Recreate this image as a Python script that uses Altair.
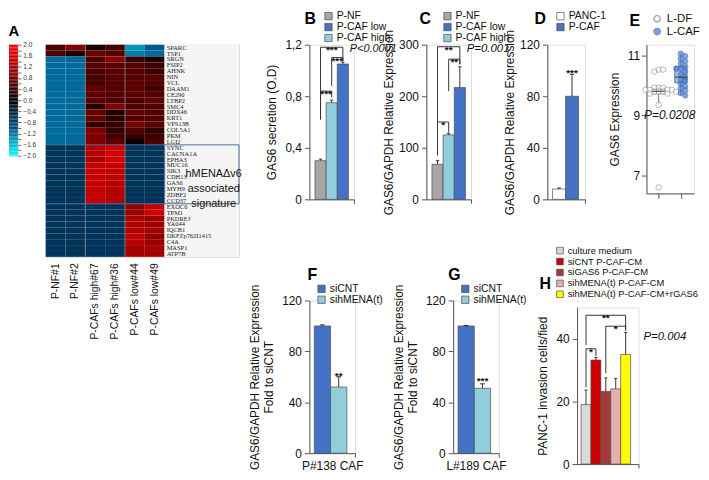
import altair as alt
import pandas as pd
import numpy as np

FONT = "Liberation Sans"
SERIF = "Liberation Serif"

# ---------------- Panel A data ----------------
genes = ["SPARC", "TSP1", "SRGN", "FSIP2", "AHNK", "NIN", "VCL", "DAAM1", "CE290",
         "LTBP2", "SMC4", "DDX46", "KRT1", "VPS13B", "COL5A1", "PKM", "LGI2",
         "SYNC", "CACNA1A", "EPHA3", "MUC16", "SIK3", "CDH13", "GAS6", "MYH9",
         "ZDBF2", "CCD37", "EXOC6", "TPM1", "PKDREJ", "YA044", "IQCB1",
         "DKFZp762I1415", "C4A", "MASP1", "ATP7B"]
samples = ["P-NF#1", "P-NF#2", "P-CAFs high#67", "P-CAFs high#36", "P-CAFs low#44", "P-CAFs low#49"]

nf1 = [0.55, 0.55, -1.15, -1.15, -1.15, -1.15, -1.15, -1.15, -1.15, -1.15, -1.15, -1.15, -1.15, -1.15, -1.15, -1.15, -1.15,
       -0.65, -0.65, -0.65, -0.65, -0.65, -0.65, -0.65, -0.65, -0.65, -0.65,
       -0.65, -0.65, -0.65, -0.65, -0.65, -0.65, -0.65, -0.65, -0.65]
nf2 = [0.95, 0.2, -1.15, -1.15, -1.15, -1.15, -1.15, -1.15, -1.15, -1.15, -1.15, -1.15, -1.15, -1.15, -1.15, -1.15, -1.15,
       -0.65, -0.65, -0.65, -0.65, -0.65, -0.65, -0.65, -0.65, -0.65, -0.65,
       -0.65, -0.65, -0.65, -0.65, -0.65, -0.65, -0.65, -0.65, -0.65]
hi67 = [0.2, 0.8, 0.55, 0.6, 0.55, 0.5, 0.5, 0.7, 0.65, 0.65, 0.3, 0.75, 0.75, 0.35, 0.9, 0.9, 0.9,
        1.35, 1.35, 1.25, 1.5, 1.5, 1.5, 1.5, 1.45, 1.5, 1.5,
        -0.65, -0.65, -0.65, -0.65, -0.65, -0.65, -0.65, -0.65, -0.65]
hi36 = [0.5, 0.6, 1.0, 0.65, 0.65, 0.6, 0.6, 0.6, 0.6, 0.55, 0.95, 0.25, 0.3, 0.4, 0.35, 0.45, 0.7,
        1.55, 1.6, 1.6, 1.45, 1.45, 1.45, 1.4, 1.35, 1.3, 1.35,
        -0.65, -0.65, -0.65, -0.65, -0.65, -0.65, -0.65, -0.65, -0.65]
lo44 = [-1.4, -1.25, 0.4, 0.6, 0.6, 0.6, 0.65, 0.65, 0.65, 0.55, 0.55, 0.7, 0.6, 0.85, 0.6, 0.4, 0.05,
        -0.65, -0.65, -0.65, -0.65, -0.65, -0.65, -0.65, -0.65, -0.65, -0.65,
        1.05, 1.05, 1.3, 1.35, 1.3, 1.45, 1.4, 1.2, 1.25]
lo49 = [-1.05, -1.15, 0.2, 0.45, 0.45, 0.6, 0.6, 0.45, 0.6, 0.7, 0.55, 0.6, 0.6, 0.65, 0.3, 0.45, 0.55,
        -0.65, -0.65, -0.65, -0.65, -0.65, -0.65, -0.65, -0.65, -0.65, -0.65,
        1.5, 1.6, 1.15, 1.15, 1.2, 1.0, 1.1, 1.25, 1.2]
heat_cols = [nf1, nf2, hi67, hi36, lo44, lo49]

colorbar_ticks = [2.0, 1.8, 1.6, 1.4, 1.2, 1.0, 0.8, 0.6, 0.4, 0.2, 0.0,
                  -0.2, -0.4, -0.6, -0.8, -1.0, -1.2, -1.4, -1.6, -1.8, -2.0]
block_breaks = [17, 27]
signature_text = "hMENAΔv6\nassociated\nsignature"

# ---------------- Bar panels data ----------------
b_cats = ["P-NF", "P-CAF low", "P-CAF high"]
b_order = ["P-NF", "P-CAF high", "P-CAF low"]
b_vals = [0.30, 0.75, 1.05]
b_errs = [0.012, 0.02, 0.015]

c_vals = [68, 125, 217]
c_errs = [7, 3, 40]

d_cats = ["PANC-1", "P-CAF"]
d_vals = [8, 80]
d_errs = [0.8, 17]

f_cats = ["siCNT", "sihMENA(t)"]
f_vals = [100, 52]
f_errs = [0.8, 8]
g_vals = [100, 51]
g_errs = [0.3, 3.5]

h_cats = ["culture medium", "siCNT P-CAF-CM", "siGAS6 P-CAF-CM",
          "sihMENA(t) P-CAF-CM", "sihMENA(t) P-CAF-CM+rGAS6"]
h_vals = [19, 33.2, 23.2, 24, 35]
h_errs = [4.6, 0.8, 4.3, 3.3, 7]

# Panel E
e_groups = ["L-DF", "L-CAF"]
ldf_vals = [10.52, 10.52, 10.45, 9.92, 9.92, 9.92, 9.85, 9.85, 9.85, 9.85, 9.78, 9.78, 9.78,
            9.78, 9.72, 9.72, 9.35, 6.6]
lcaf_vals = [11.05, 10.97, 10.88, 10.8, 10.72, 10.63, 10.55, 10.55, 10.46, 10.36, 10.27, 10.18,
             10.14, 10.05, 9.97, 9.9, 9.83, 9.74, 9.66]
e_box = {"L-DF": [9.72, 9.8, 9.9, 9.35, 9.92], "L-CAF": [10.08, 10.27, 10.63, 9.66, 11.05]}

GRAY = "#a6a6a6"
BLUE = "#4472c4"
LBLUE = "#92cddc"
AXC = "#555555"


def ind(c):
    return c.resolve_scale(color="independent", fill="independent", stroke="independent").resolve_legend(
        color="independent", fill="independent", stroke="independent")


# NOTE: with bounds="flush", a nested concat counts as size 0, so the spacing that
# follows it is the full offset from its origin.
def hc(*charts, spacing=0, **kw):
    return ind(alt.hconcat(*charts, spacing=spacing, bounds="flush", **kw))


def vc(*charts, spacing=0, **kw):
    return ind(alt.vconcat(*charts, spacing=spacing, bounds="flush", **kw))


# ================= Panel A =================
rows = []
for s, col in zip(samples, heat_cols):
    for i, g in enumerate(genes):
        rows.append(dict(sample=s, gene=g, r0=i, r1=i + 1, value=col[i]))
heat_df = pd.DataFrame(rows)

cscale = alt.Scale(domain=[-2, -1, 0, 1, 2],
                   range=["#00ffff", "#00508a", "#000000", "#8c0000", "#ff0000"], interpolate="rgb")
ys = alt.Scale(domain=[0, len(genes)], reverse=True, nice=False, zero=False)

heat_rect = alt.Chart(heat_df).mark_rect().encode(
    x=alt.X("sample:N", sort=samples, scale=alt.Scale(paddingInner=0, paddingOuter=0),
            axis=alt.Axis(title=None, labelAngle=-90, labelFontSize=10.5, labelFont=FONT,
                          ticks=False, domain=False, labelPadding=6, labelColor="#111")),
    y=alt.Y("r0:Q", scale=ys, axis=None),
    y2="r1:Q",
    color=alt.Color("value:Q", scale=cscale, legend=None),
)
sep_v = alt.Chart(pd.DataFrame({"sample": [samples[2], samples[4]]})).mark_rule(
    color="#7a7a7a", strokeWidth=1).encode(x=alt.X("sample:N", sort=samples, bandPosition=0))
sep_h = alt.Chart(pd.DataFrame({"r": block_breaks})).mark_rule(
    color="#4a6a9a", strokeWidth=1).encode(y=alt.Y("r:Q", scale=ys))
heat = alt.layer(heat_rect, sep_v, sep_h).properties(width=120, height=214)

lab_df = pd.DataFrame({"gene": genes, "rc": [i + 0.5 for i in range(len(genes))], "x0": 0.0})
lab_bg = alt.Chart(pd.DataFrame({"a": [0.0], "b": [1.0], "t": [0.0], "u": [float(len(genes))]})).mark_rect(
    color="#f5f5f5").encode(x=alt.X("a:Q", scale=alt.Scale(domain=[0, 1]), axis=None), x2="b:Q",
                             y=alt.Y("t:Q", scale=ys, axis=None), y2="u:Q")
lab_txt = alt.Chart(lab_df).mark_text(align="left", baseline="middle", font=SERIF, fontSize=6.5,
                                      dx=2, color="#222").encode(
    x=alt.X("x0:Q", scale=alt.Scale(domain=[0, 1]), axis=None),
    y=alt.Y("rc:Q", scale=ys, axis=None), text="gene:N")
box_df = pd.DataFrame({"a": [0.0], "b": [1.0], "t": [float(block_breaks[0])], "u": [float(block_breaks[1])]})
lab_box = alt.Chart(box_df).mark_rect(fill=None, stroke="#4a6a9a", strokeWidth=1).encode(
    x=alt.X("a:Q", scale=alt.Scale(domain=[0, 1]), axis=None), x2="b:Q",
    y=alt.Y("t:Q", scale=ys, axis=None), y2="u:Q")
sig_df = pd.DataFrame({"xx": [0.66], "yy": [(block_breaks[0] + block_breaks[1]) / 2], "t": [signature_text]})
lab_sig = alt.Chart(sig_df).mark_text(align="center", baseline="middle", font=FONT, fontSize=11,
                                      lineBreak="\n", lineHeight=15, color="#111").encode(
    x=alt.X("xx:Q", scale=alt.Scale(domain=[0, 1]), axis=None),
    y=alt.Y("yy:Q", scale=ys, axis=None), text="t:N")
labels = alt.layer(lab_bg, lab_txt, lab_box, lab_sig).properties(width=75, height=214)

cb_v = np.round(np.arange(-2.0, 2.0001, 0.05), 3)
cb_df = pd.DataFrame({"v": cb_v[:-1], "v2": cb_v[1:], "m": (cb_v[:-1] + cb_v[1:]) / 2})
colorbar = alt.Chart(cb_df).mark_rect().encode(
    y=alt.Y("v:Q", scale=alt.Scale(domain=[-2, 2], nice=False, zero=False),
            axis=alt.Axis(orient="right", values=colorbar_ticks, format=".1f", title=None,
                          labelFontSize=6.5, labelFont=FONT, labelColor="#333", tickSize=3,
                          tickColor="#666", domain=False, labelPadding=2)),
    y2="v2:Q",
    color=alt.Color("m:Q", scale=cscale, legend=None),
).properties(width=9, height=112)

panel_a = hc(colorbar, hc(heat, labels, spacing=0), spacing=28,
             title=alt.Title("A", anchor="start", fontSize=15, font=FONT, fontWeight="bold", offset=2))


# ================= Bar panel helper =================
def legend_cfg(lx, ly, letter=None, orient="left", gap=7, font=10.5, symsize=55, anchor="start"):
    kw = dict(orient="none", legendX=lx, legendY=ly, symbolType="square", symbolSize=symsize,
              symbolStrokeColor="#4d4d4d", symbolStrokeWidth=0.7, labelFont=FONT,
              labelFontSize=font, labelColor="#111", rowPadding=0, padding=0, labelOffset=3)
    if letter:
        kw.update(title=letter, titleOrient=orient, titleFont=FONT, titleFontSize=16,
                  titleFontWeight="bold", titleColor="#000", titlePadding=gap,
                  titleAnchor=anchor, titleBaseline="top")
    else:
        kw.update(title=None)
    return alt.Legend(**kw)


def bar_panel(cats, order, vals, errs, colors, ytitle, ydom, yticks, width, height, legend,
              brackets=(), ptext=None, xtitle=None, lab_expr=None, pad=(0.5, 0.5),
              stars=(), title_pad=6, title=None, pfont=12):
    n = len(order)
    df = pd.DataFrame({"cat": order, "val": vals, "err": errs})
    df["top"] = df["val"] + df["err"]
    df["i"] = list(range(n))
    df["x0"] = df["i"] - 0.5
    df["x1"] = df["i"] + 0.5
    df["c0"] = df["i"] - 0.15
    df["c1"] = df["i"] + 0.15
    df["base"] = 0.0
    xdom = [-0.5 - pad[0], n - 0.5 + pad[1]]
    xs = alt.Scale(domain=xdom, nice=False, zero=False)
    xax = alt.Axis(labels=False, ticks=True, values=[xdom[1]], tickSize=4, grid=False,
                   title=xtitle, domainColor=AXC, tickColor=AXC, titleFont=FONT, titleFontSize=12,
                   titleFontWeight="normal", titlePadding=3, titleColor="#111")
    yargs = dict(values=yticks, title=ytitle, grid=False, tickSize=5, domainColor=AXC,
                 tickColor=AXC, labelFont=FONT, labelFontSize=12, labelColor="#111",
                 titleFont=FONT, titleFontSize=12, titleFontWeight="normal", titleColor="#111",
                 titlePadding=title_pad, labelPadding=3)
    if lab_expr:
        yargs["labelExpr"] = lab_expr
    yax = alt.Axis(**yargs)
    ysc = alt.Scale(domain=ydom, nice=False, zero=False)
    base = alt.Chart(df)
    bars = base.mark_rect(stroke="#4d4d4d", strokeWidth=0.7).encode(
        x=alt.X("x0:Q", scale=xs, axis=xax), x2="x1:Q",
        y=alt.Y("val:Q", scale=ysc, axis=yax), y2="base:Q",
        color=alt.Color("cat:N", scale=alt.Scale(domain=cats, range=colors), legend=legend),
    )
    err = base.mark_rule(color="#333", strokeWidth=1).encode(
        x=alt.X("i:Q", scale=xs), y=alt.Y("val:Q", scale=ysc), y2="top:Q")
    cap = base.mark_rule(color="#333", strokeWidth=1).encode(
        x=alt.X("c0:Q", scale=xs), x2="c1:Q", y=alt.Y("top:Q", scale=ysc))
    layers = [bars, err, cap]
    if brackets:
        bdf = pd.DataFrame(list(brackets), columns=["a", "b", "h", "la", "lb", "s"])
        bdf["mid"] = (bdf["a"] + bdf["b"]) / 2
        layers.append(alt.Chart(bdf).mark_rule(color="#333", strokeWidth=1).encode(
            x=alt.X("a:Q", scale=xs), x2="b:Q", y=alt.Y("h:Q", scale=ysc)))
        layers.append(alt.Chart(bdf).mark_rule(color="#333", strokeWidth=1).encode(
            x=alt.X("a:Q", scale=xs), y=alt.Y("la:Q", scale=ysc), y2="h:Q"))
        layers.append(alt.Chart(bdf).mark_rule(color="#333", strokeWidth=1).encode(
            x=alt.X("b:Q", scale=xs), y=alt.Y("lb:Q", scale=ysc), y2="h:Q"))
        layers.append(alt.Chart(bdf).mark_text(font=FONT, fontSize=10, fontWeight="bold",
                                               baseline="alphabetic", dy=6, color="#111").encode(
            x=alt.X("mid:Q", scale=xs), y=alt.Y("h:Q", scale=ysc), text="s:N"))
    if stars:
        sdf = pd.DataFrame(list(stars), columns=["sx", "sy", "s"])
        layers.append(alt.Chart(sdf).mark_text(font=FONT, fontSize=10, fontWeight="bold",
                                               baseline="alphabetic", dy=6, color="#111").encode(
            x=alt.X("sx:Q", scale=xs), y=alt.Y("sy:Q", scale=ysc), text="s:N"))
    if ptext:
        pdf = pd.DataFrame([ptext], columns=["px", "py", "t"])
        layers.append(alt.Chart(pdf).mark_text(font=FONT, fontSize=pfont, fontStyle="italic",
                                               align="left", baseline="middle", color="#111").encode(
            x=alt.X("px:Q", scale=xs), y=alt.Y("py:Q", scale=ysc), text="t:N"))
    props = dict(width=width, height=height)
    if title is not None:
        props["title"] = title
    return alt.layer(*layers).properties(**props)


def bottom_letter(t, dx, dy):
    return alt.Title(t, anchor="start", frame="group", fontSize=16, font=FONT, fontWeight="bold",
                     dx=dx, dy=dy, offset=4)


comma = "replace(format(datum.value, '.1~f'), '.', ',')"

panel_b = bar_panel(b_cats, b_order, b_vals, b_errs, [GRAY, BLUE, LBLUE],
                    "GAS6 secretion (O.D)", [0, 1.2], [0, 0.2, 0.4, 0.6, 0.8, 1.0, 1.2], 45, 156,
                    legend_cfg(-5, -34, "B", gap=7),
                    brackets=[(0, 2, 1.18, 0.62, 1.08, "***"), (1, 2, 1.1, 0.88, 1.07, "***"),
                              (0, 1, 0.84, 0.62, 0.79, "***")],
                    ptext=(2.62, 1.17, "P<0.0001"), lab_expr=comma, pad=(0.5, 0.5), pfont=11)

panel_c = bar_panel(b_cats, b_order, c_vals, c_errs, [GRAY, BLUE, LBLUE],
                    "GAS6/GAPDH Relative Expression", [0, 300], [0, 50, 100, 150, 200, 250, 300],
                    45, 156, legend_cfg(-7, -34, "C", gap=11),
                    brackets=[(0, 2, 296, 150, 262, "**"), (1, 2, 272, 210, 262, "**"),
                              (0, 1, 150, 85, 130, "*")],
                    ptext=(2.62, 292, "P=0.001"), pad=(0.5, 0.5), title_pad=3, pfont=11.5)

panel_d = bar_panel(d_cats, d_cats, d_vals, d_errs, ["#ffffff", BLUE],
                    "GAS6/GAPDH  Relative Expression", [0, 120], [0, 20, 40, 60, 80, 100, 120],
                    38, 156, legend_cfg(-13, -34, "D", gap=9), pad=(0.4, 0.5), title_pad=3,
                    stars=[(1.0, 100.0, "***")])

# ---- Panel E ----
def swarm(vals, g, step=0.2, tol=0.12):
    out = []
    placed = []
    for v in vals:
        k = 0
        while True:
            off = ((k + 1) // 2) * step * (1 if k % 2 else -1) if k else 0.0
            if all(abs(v - pv) > tol or abs(off - po) > step * 0.9 for pv, po in placed):
                break
            k += 1
        placed.append((v, off))
        out.append(dict(group=e_groups[g], x=g + off, y=v))
    return out


pts = pd.DataFrame(swarm(ldf_vals, 0) + swarm(lcaf_vals, 1))
bx = pd.DataFrame([dict(group=k, i=e_groups.index(k), q1=v[0], med=v[1], q3=v[2], lo=v[3], hi=v[4])
                   for k, v in e_box.items()])
bx["x0"] = bx["i"] - 0.27
bx["x1"] = bx["i"] + 0.27
exs = alt.Scale(domain=[-0.55, 1.6], nice=False, zero=False)
eys = alt.Scale(domain=[6.4, 11.35], nice=False, zero=False)
e_xax = alt.Axis(labels=False, values=[0, 1], tickSize=5, grid=False, title=None,
                 domainColor=AXC, tickColor=AXC)
e_yax = alt.Axis(values=[7, 8, 9, 10, 11], title="GAS6  Expression", grid=False, tickSize=5,
                 domainColor=AXC, tickColor=AXC, labelFont=FONT, labelFontSize=12,
                 labelColor="#111", titleFont=FONT, titleFontSize=12, titleFontWeight="normal",
                 titleColor="#111", titlePadding=6)
e_box_ldf = alt.Chart(bx[bx["group"] == "L-DF"]).mark_rect(
    stroke="#555", strokeWidth=0.8, fill="#ffffff").encode(
    x=alt.X("x0:Q", scale=exs, axis=e_xax), x2="x1:Q",
    y=alt.Y("q1:Q", scale=eys, axis=e_yax), y2="q3:Q")
e_box_lcaf = alt.Chart(bx[bx["group"] == "L-CAF"]).mark_rect(
    stroke="#555", strokeWidth=0.8, fill="#a9c4e8").encode(
    x=alt.X("x0:Q", scale=exs), x2="x1:Q",
    y=alt.Y("q1:Q", scale=eys), y2="q3:Q")
e_whisk = alt.Chart(bx).mark_rule(color="#555", strokeWidth=0.8).encode(
    x=alt.X("i:Q", scale=exs), y=alt.Y("lo:Q", scale=eys), y2="hi:Q")
e_leg = alt.Legend(orient="none", legendX=-17, legendY=-32, title="E", titleOrient="left",
                   titleFont=FONT, titleFontSize=16, titleFontWeight="bold", titleColor="#000",
                   titlePadding=11, titleAnchor="start", titleBaseline="top",
                   symbolSize=40, labelFont=FONT, labelFontSize=11.5,
                   labelColor="#111", rowPadding=0, padding=0)
e_pts = alt.Chart(pts).mark_point(filled=True, size=30, strokeWidth=0.9).encode(
    x=alt.X("x:Q", scale=exs), y=alt.Y("y:Q", scale=eys),
    fill=alt.Fill("group:N", scale=alt.Scale(domain=e_groups, range=["#ffffff", "#4a7fcf"]),
                  legend=e_leg),
    stroke=alt.Stroke("group:N", scale=alt.Scale(domain=e_groups, range=["#8c8c8c", "#3a6cb5"]),
                      legend=e_leg),
)
e_med = alt.Chart(bx).mark_rule(color="#333", strokeWidth=1).encode(
    x=alt.X("x0:Q", scale=exs), x2="x1:Q", y=alt.Y("med:Q", scale=eys))
e_p = alt.Chart(pd.DataFrame({"x": [0.5], "y": [9.0], "t": ["P=0.0208"]})).mark_text(
    font=FONT, fontSize=12, fontStyle="italic", color="#111").encode(
    x=alt.X("x:Q", scale=exs), y=alt.Y("y:Q", scale=eys), text="t:N")
panel_e = alt.layer(e_whisk, e_box_ldf, e_box_lcaf, e_pts, e_med, e_p).properties(
    width=48, height=150)

# ---- Bottom row ----
fg_title = ["GAS6/GAPDH Relative Expression", "Fold to siCNT"]
panel_f = bar_panel(f_cats, f_cats, f_vals, f_errs, [BLUE, LBLUE],
                    fg_title, [0, 120], [0, 20, 40, 60, 80, 100, 120], 46, 154,
                    legend_cfg(7, -17), xtitle="P#138 CAF", pad=(0.3, 0.5),
                    stars=[(1.0, 63.0, "**")], title=bottom_letter("F", -2, 3))
panel_g = bar_panel(f_cats, f_cats, g_vals, g_errs, [BLUE, LBLUE],
                    fg_title, [0, 120], [0, 20, 40, 60, 80, 100, 120], 46, 154,
                    legend_cfg(7, -17), xtitle="L#189 CAF", pad=(0.3, 0.5),
                    stars=[(1.0, 59.0, "***")], title=bottom_letter("G", -5, 3))

panel_h = bar_panel(h_cats, h_cats, h_vals, h_errs,
                    ["#d9d9d9", "#cc0000", "#a33a3a", "#e6b0b0", "#ffff00"],
                    "PANC-1 invasion cells/fied", [0, 50], [0, 10, 20, 30, 40, 50], 62, 158,
                    legend_cfg(-22, -62, font=9.5, symsize=45),
                    brackets=[(0, 1, 36.8, 24.5, 34.5, "*"), (0, 4, 47.5, 38, 43, "**"),
                              (2, 4, 44, 29, 42.5, "*")],
                    ptext=(5.8, 40.5, "P=0.004"), pad=(0.4, 0.8), pfont=11.5,
                    title=bottom_letter("H", -38, 50))


def spacer():
    return alt.Chart(pd.DataFrame({"a": [0]})).mark_point(opacity=0).encode(
        x=alt.value(0), y=alt.value(0)).properties(width=1, height=1)


top_row = hc(panel_b, hc(panel_c, hc(panel_d, panel_e, spacing=62), spacing=77), spacing=73)
bottom_row = hc(panel_f, hc(panel_g, vc(spacer(), panel_h, spacing=6), spacing=79), spacing=99)
right = vc(top_row, bottom_row, spacing=258)

chart = hc(panel_a, right, spacing=303).properties(
    padding={"left": 0, "top": 0, "right": 0, "bottom": 0}).configure_view(
    stroke=None).configure(font=FONT)

chart.save("out.html", embed_options={"renderer": "svg", "actions": False})
